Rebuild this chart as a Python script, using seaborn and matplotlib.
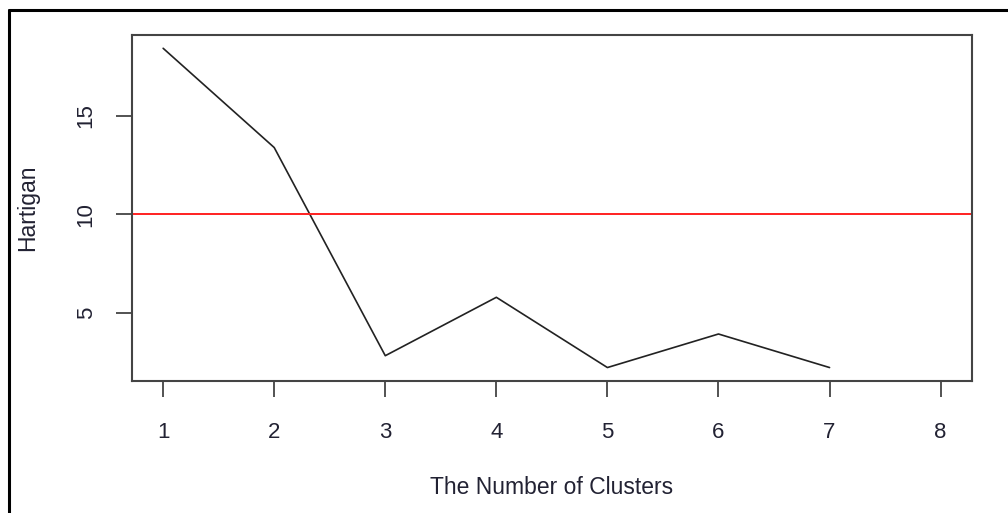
import numpy as np
import pandas as pd
import seaborn as sns
import matplotlib.pyplot as plt
from matplotlib.lines import Line2D

# Hartigan index per number of clusters (8 has no value)
clusters = [1, 2, 3, 4, 5, 6, 7, 8]
hartigan = [18.42, 13.39, 2.84, 5.80, 2.24, 3.94, 2.24, np.nan]
threshold = 10

df = pd.DataFrame({'clusters': clusters, 'hartigan': hartigan})

sns.set_style('white')
plt.rcParams['font.family'] = ['Liberation Sans', 'DejaVu Sans']

fig = plt.figure(figsize=(10.08, 5.13), dpi=100)
ax = fig.add_axes([0.131, 0.257, 0.833, 0.675])

sns.lineplot(data=df, x='clusters', y='hartigan', color='#222222', linewidth=1.2, ax=ax)
ax.axhline(threshold, color='#ff2020', linewidth=1.4)

ax.set_xlim(0.72, 8.28)
ax.set_ylim(1.55, 19.1)
ax.set_xticks(clusters)
ax.set_yticks([5, 10, 15])
ax.set_yticklabels(['5', '10', '15'], rotation=90, va='center')

for s in ax.spines.values():
    s.set_color('#444444')
    s.set_linewidth(1.5)
ax.tick_params(direction='out', length=11.5, width=1.3, color='#444444',
               labelsize=16, labelcolor='#222233', left=True, bottom=True)
ax.tick_params(axis='x', pad=18)
ax.tick_params(axis='y', pad=14)

ax.set_xlabel('The Number of Clusters', fontsize=16.5, color='#222233', labelpad=24)
ax.set_ylabel('Hartigan', fontsize=16.5, color='#222233', labelpad=26)

# outer frame (left and top edges only)
fig.add_artist(Line2D([9 / 1008, 9 / 1008], [0, 1 - 10 / 513], transform=fig.transFigure,
                      color='black', linewidth=2.2))
fig.add_artist(Line2D([9 / 1008, 1], [1 - 10 / 513, 1 - 10 / 513], transform=fig.transFigure,
                      color='black', linewidth=2.2))

fig.savefig('out.png', dpi=100)
